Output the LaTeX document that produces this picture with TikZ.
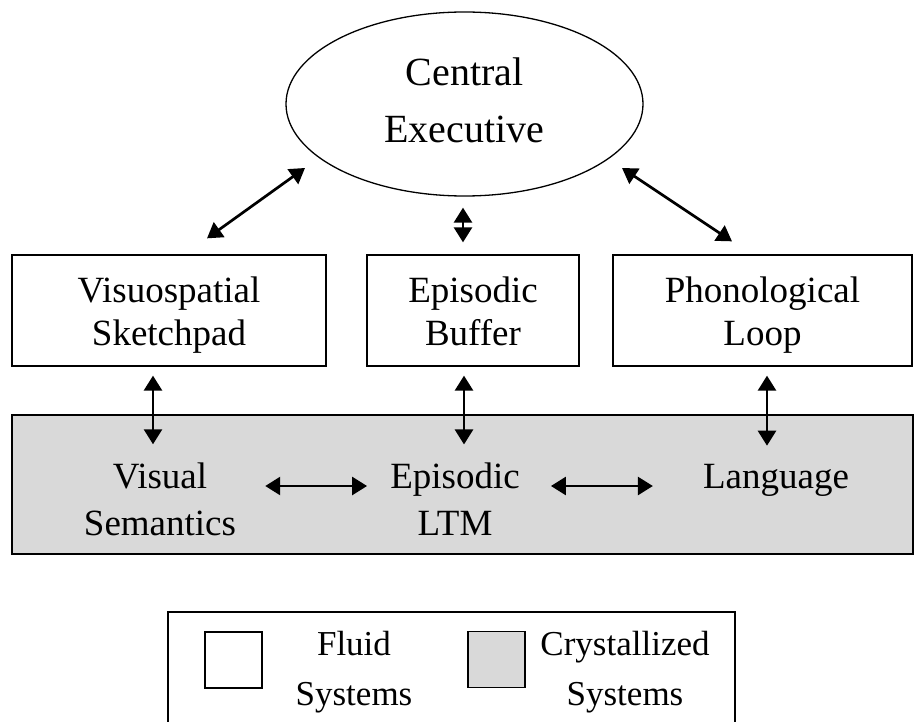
\documentclass[tikz,border=0pt]{standalone}
\usepackage{fontspec}
\setmainfont{Liberation Serif}
\usetikzlibrary{shapes.geometric,arrows.meta}
\definecolor{crystal}{RGB}{217,217,217}
\tikzset{
  box/.style={draw,line width=1.3pt,minimum height=111pt,inner sep=0pt,align=center,text height=78pt,text depth=8pt,font=\fontsize{37}{43}\selectfont},
  lbl/.style={inner sep=0pt,align=center,font=\fontsize{37}{47}\selectfont},
  lgd/.style={inner sep=0pt,align=center,font=\fontsize{35}{50}\selectfont},
  key/.style={draw,line width=1.3pt,minimum width=57pt,minimum height=56pt,inner sep=0pt},
  dbl/.style={{Triangle[length=15pt,width=18pt]}-{Triangle[length=15pt,width=18pt]},line width=2.7pt},
}
\begin{document}
\begin{tikzpicture}[x=1pt,y=-1pt]
\useasboundingbox (0,0) rectangle (915,722);
\node[ellipse,draw,line width=1.3pt,minimum width=357pt,minimum height=184pt,inner sep=0pt,
  align=center,text depth=8pt,font=\fontsize{40}{57}\selectfont] (ce) at (464.5,104) {Central\\Executive};
\node[box,minimum width=314pt] (vs) at (169,310.5) {Visuospatial\\Sketchpad};
\node[box,minimum width=212pt] (eb) at (473,310.5) {Episodic\\Buffer};
\node[box,minimum width=299pt] (pl) at (762.5,310.5) {Phonological\\Loop};
% long term part
\node[draw,fill=crystal,line width=1.3pt,minimum width=901pt,minimum height=139pt,inner sep=0pt] (ltm) at (462.5,484.5) {};
\node[lbl] (vsem) at (160,499) {Visual\\Semantics};
\node[lbl] (eltm) at (455,499) {Episodic\\LTM};
\node[lbl] (lang) at (776,480) {Language};
% arrows
\draw[dbl] ([shift={(-159.5pt,-64pt)}]ce.center) -- ([shift={(38pt,16pt)}]vs.north);
\draw[dbl] ([shift={(157.5pt,-64pt)}]ce.center) -- ([shift={(-30.5pt,13pt)}]pl.north);
\draw[dbl,shorten <=11pt,shorten >=12pt] ([xshift=-1.5pt]ce.south) -- ([xshift=-1.5pt]ce.south |- eb.north);
\foreach \a/\b/\s in {vs/vsem/-16,eb/eltm/-9,pl/lang/4.5}
  \draw[dbl,shorten <=9pt,shorten >=18pt] ([xshift=\s pt]\a.south) -- ([xshift=\s pt]\a.south |- \b.north);
\draw[dbl,shorten <=29pt,shorten >=23pt] ([yshift=13pt]vsem.east) -- ([yshift=13pt]eltm.west);
\draw[dbl,shorten <=31pt,shorten >=50pt] ([yshift=13pt]eltm.east) -- ([yshift=13pt]eltm.east -| lang.west);
% legend
\draw[line width=1.3pt] (168,722) |- (735,612) -- (735,722);
\node[key] (fl) at (233.5,660) {};
\node[key,fill=crystal] (cr) at (496.5,659.5) {};
\node[lgd] (fltxt) at (354,672) {Fluid\\Systems};
\node[lgd] (crtxt) at (625,672) {Crystallized\\Systems};
\end{tikzpicture}
\end{document}
